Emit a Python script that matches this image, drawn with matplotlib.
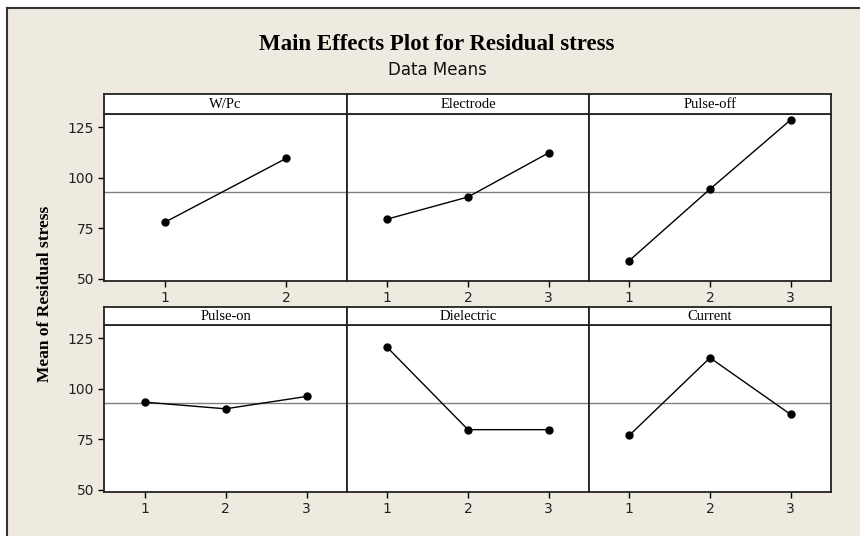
import numpy as np
import matplotlib
matplotlib.use("Agg")
import matplotlib.pyplot as plt

# data
factors = ["W/Pc", "Electrode", "Pulse-off", "Pulse-on", "Dielectric", "Current"]
w_pc = [78.0, 109.6]
electrode = [79.6, 90.5, 112.3]
pulse_off = [59.1, 94.4, 128.6]
pulse_on = [93.4, 90.1, 96.2]
dielectric = [120.4, 79.8, 79.8]
current = [77.0, 115.3, 87.3]
grand_mean = 93.2
y_ticks = [50, 75, 100, 125]

series = [w_pc, electrode, pulse_off, pulse_on, dielectric, current]

W, H = 860, 536
bg = "#eeeae0"
fig = plt.figure(figsize=(W / 100, H / 100), dpi=100, facecolor="white")

def px(x0, y0, x1, y1):
    # pixel box (top-left origin) -> figure fraction rect
    return [x0 / W, 1 - y1 / H, (x1 - x0) / W, (y1 - y0) / H]

# beige background with the frame on top and left
bgax = fig.add_axes(px(7, 8, W, H), zorder=-10)
bgax.set_facecolor(bg)
bgax.set_xticks([])
bgax.set_yticks([])
for s in ["right", "bottom"]:
    bgax.spines[s].set_visible(False)
for s in ["top", "left"]:
    bgax.spines[s].set_linewidth(1.5)
    bgax.spines[s].set_color("#333333")

cols = [104, 347, 589, 831]
rows = [(94, 114, 281), (307, 325, 492)]

for i, (name, vals) in enumerate(zip(factors, series)):
    r, c = divmod(i, 3)
    st, top, bot = rows[r]
    x0, x1 = cols[c], cols[c + 1]

    ax = fig.add_axes(px(x0, top, x1, bot))
    ax.set_facecolor("white")
    lv = np.arange(1, len(vals) + 1)
    ax.axhline(grand_mean, color="#808080", lw=1.0, zorder=1)
    ax.plot(lv, vals, color="black", lw=1.0, marker="o", ms=5, zorder=3)
    ax.set_xlim(0.5, len(vals) + 0.5)
    ax.set_ylim(49, 131.5)
    ax.set_xticks(lv)
    ax.set_xticklabels([str(v) for v in lv], fontsize=10, color="#222222")
    ax.set_yticks(y_ticks)
    ax.set_yticklabels([str(v) for v in y_ticks], fontsize=10, color="#222222")
    ax.tick_params(direction="out", length=4, width=1, pad=3)
    if c != 0:
        ax.tick_params(axis="y", left=False, labelleft=False)
    for s in ax.spines.values():
        s.set_linewidth(1.3)
        s.set_color("#222222")

    sax = fig.add_axes(px(x0, st, x1, top))
    sax.set_facecolor("white")
    sax.set_xticks([])
    sax.set_yticks([])
    for s in sax.spines.values():
        s.set_linewidth(1.3)
        s.set_color("#222222")
    sax.text(0.5, 0.5, name, ha="center", va="center", fontsize=10.5,
             family="Liberation Serif", transform=sax.transAxes)

fig.text(437 / W, 1 - 45 / H, "Main Effects Plot for Residual stress",
         ha="center", va="center", fontsize=16.5, fontweight="bold",
         family="Liberation Serif")
fig.text(437 / W, 1 - 70 / H, "Data Means", ha="center", va="center",
         fontsize=12, family="DejaVu Sans", color="#111111")
fig.text(45 / W, 1 - 294 / H, "Mean of Residual stress", ha="center",
         va="center", rotation=90, fontsize=12.5, fontweight="bold",
         family="Liberation Serif")

fig.savefig("out.png", dpi=100, facecolor=fig.get_facecolor())
